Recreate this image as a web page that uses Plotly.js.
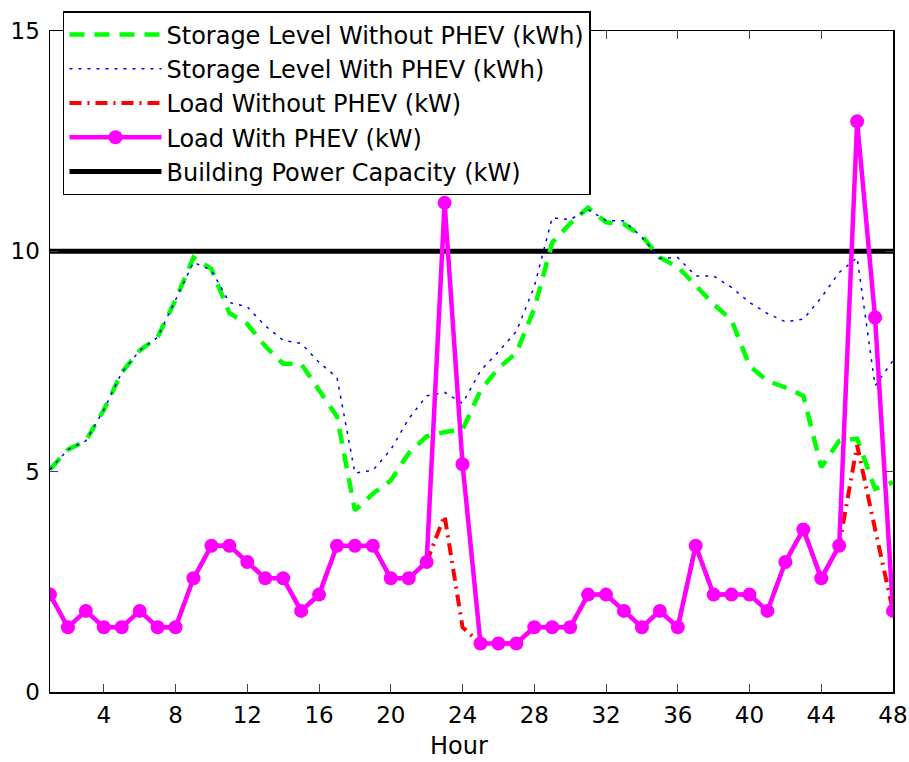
<!DOCTYPE html>
<html>
<head>
<meta charset="utf-8">
<script src="https://cdn.plot.ly/plotly-3.0.1.min.js"></script>
<style>html,body{margin:0;padding:0;background:#fff;}#chart{width:909px;height:762px;}</style>
</head>
<body>
<div id="chart"></div>
<script>
const hours = [1,2,3,4,5,6,7,8,9,10,11,12,13,14,15,16,17,18,19,20,21,22,23,24,25,26,27,28,29,30,31,32,33,34,35,36,37,38,39,40,41,42,43,44,45,46,47,48];
const storageWithout = [5.05,5.5,5.7,6.4,7.25,7.75,8.05,8.9,9.86,9.6,8.6,8.35,7.85,7.45,7.45,6.85,6.25,4.12,4.5,4.8,5.42,5.8,5.9,5.95,6.84,7.35,7.69,8.7,10.2,10.63,10.99,10.66,10.62,10.35,9.86,9.65,9.21,8.8,8.44,7.4,7.06,6.91,6.72,5.1,5.7,5.75,4.61,4.76];
const storageWith = [5.05,5.5,5.7,6.4,7.25,7.75,8.05,8.9,9.75,9.57,8.84,8.74,8.31,7.98,7.91,7.48,7.14,4.97,5.03,5.5,6.2,6.72,6.8,6.55,7.29,7.72,8.18,9.2,10.76,10.72,10.95,10.7,10.69,10.32,9.84,9.86,9.44,9.44,9.18,8.84,8.59,8.4,8.46,8.95,9.52,9.86,6.95,7.52];
const loadWithout = [2.21,1.47,1.84,1.47,1.47,1.84,1.47,1.47,2.58,3.32,3.32,2.95,2.58,2.58,1.84,2.21,3.32,3.32,3.32,2.58,2.58,2.95,4.0,1.47,1.10,1.10,1.10,1.47,1.47,1.47,2.21,2.21,1.84,1.47,1.84,1.47,3.32,2.21,2.21,2.21,1.84,2.95,3.69,2.58,3.32,5.6,3.7,1.84];
const loadWith = [2.21,1.47,1.84,1.47,1.47,1.84,1.47,1.47,2.58,3.32,3.32,2.95,2.58,2.58,1.84,2.21,3.32,3.32,3.32,2.58,2.58,2.95,11.1,5.17,1.10,1.10,1.10,1.47,1.47,1.47,2.21,2.21,1.84,1.47,1.84,1.47,3.32,2.21,2.21,2.21,1.84,2.95,3.69,2.58,3.32,12.95,8.5,1.84];
const capacity = [10,10,10,10,10,10,10,10,10,10,10,10,10,10,10,10,10,10,10,10,10,10,10,10,10,10,10,10,10,10,10,10,10,10,10,10,10,10,10,10,10,10,10,10,10,10,10,10];
const names = ['Storage Level Without PHEV (kWh)','Storage Level With PHEV (kWh)','Load Without PHEV (kW)','Load With PHEV (kW)','Building Power Capacity (kW)'];
const xTicks = [4,8,12,16,20,24,28,32,36,40,44,48];
const yTicks = [0,5,10,15];
const xLabel = 'Hour';

const FONT = 'DejaVu Sans, Liberation Sans, Arial, sans-serif';
const traces = [
  {x: hours, y: capacity, name: names[4], mode: 'lines', legendrank: 5, legendgroup: 'e',
   line: {color: '#000000', width: 5}},
  {x: hours, y: storageWithout, name: names[0], mode: 'lines', legendrank: 1, legendgroup: 'a',
   line: {color: '#00ff00', width: 4.5, dash: '15px,10px'}},
  {x: hours, y: storageWith, name: names[1], mode: 'lines', legendrank: 2, legendgroup: 'b',
   line: {color: '#0000ff', width: 1.5, dash: '3px,6px'}},
  {x: hours, y: loadWithout, name: names[2], mode: 'lines', legendrank: 3, legendgroup: 'c',
   line: {color: '#ff0000', width: 4, dash: '12px,6px,2px,6px'}},
  {x: hours, y: loadWith, name: names[3], mode: 'lines+markers', legendrank: 4, legendgroup: 'd',
   line: {color: '#ff00ff', width: 4.5}, marker: {color: '#ff00ff', size: 14}}
];

const layout = {
  width: 909, height: 762,
  margin: {l: 50, r: 16, t: 30, b: 70},
  paper_bgcolor: '#ffffff', plot_bgcolor: '#ffffff',
  font: {family: FONT, size: 23, color: '#000000'},
  showlegend: true,
  legend: {
    x: 0.0154, y: 1.0287, xanchor: 'left', yanchor: 'top',
    bgcolor: '#ffffff', bordercolor: '#000000', borderwidth: 1.5,
    font: {family: FONT, size: 24, color: '#000000'},
    itemwidth: 92, tracegroupgap: 0
  },
  xaxis: {
    range: [1, 48], tickvals: xTicks, ticks: 'inside', ticklen: 8, tickwidth: 1,
    showline: true, linecolor: '#000000', linewidth: 1.5, mirror: 'ticks',
    showgrid: false, zeroline: false, ticklabelstandoff: 2,
    tickfont: {family: FONT, size: 23, color: '#000000'}
  },
  yaxis: {
    range: [0, 15], tickvals: yTicks, ticks: 'inside', ticklen: 8, tickwidth: 1,
    showline: true, linecolor: '#000000', linewidth: 1.5, mirror: 'ticks',
    showgrid: false, zeroline: false, ticklabelstandoff: 4,
    tickfont: {family: FONT, size: 23, color: '#000000'}
  },
  annotations: [{
    text: xLabel, xref: 'paper', yref: 'paper', x: 0.485, y: -0.0816,
    xanchor: 'center', yanchor: 'middle', showarrow: false,
    font: {family: FONT, size: 24, color: '#000000'}
  }]
};

Plotly.newPlot('chart', traces, layout, {displayModeBar: false, staticPlot: true});
</script>
</body>
</html>
